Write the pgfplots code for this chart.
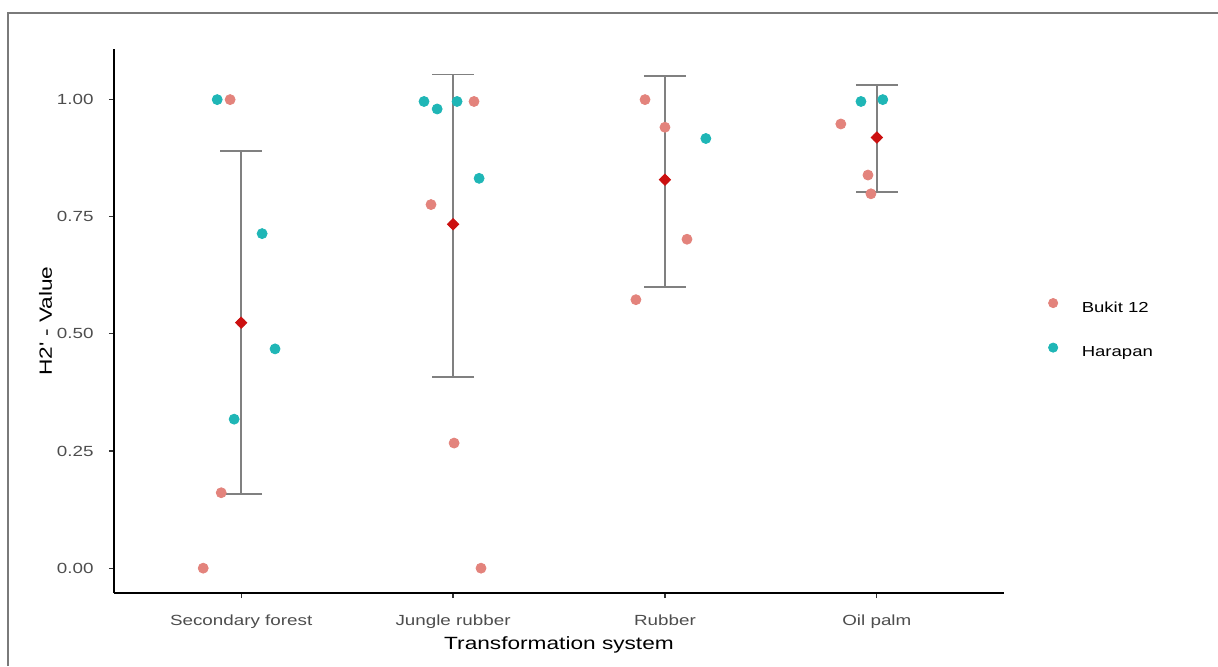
\documentclass[border=0pt]{standalone}
\usepackage{fontspec}
\setmainfont{Liberation Sans}[FakeStretch=1.28]
\usepackage{pgfplots}
\pgfplotsset{compat=1.18}
\definecolor{bukit}{HTML}{E3837C}
\definecolor{harapan}{HTML}{1FB6B6}
\definecolor{meanred}{HTML}{CC1010}
\definecolor{errgray}{HTML}{808080}
\definecolor{ticklab}{HTML}{4D4D4D}
\definecolor{framegray}{HTML}{7A7A7A}

\pgfplotstableread{
x y ep em
1 0.524 0.366 0.366
2 0.734 0.320 0.326
3 0.829 0.221 0.229
4 0.919 0.112 0.116
}\errtable

\begin{document}
\begin{tikzpicture}
\useasboundingbox (0,0) rectangle (609pt,333pt);
\draw[framegray, line width=1pt] (4pt,0pt) -- (4pt,326.5pt) -- (609pt,326.5pt);
\begin{axis}[
  at={(57pt,36.5pt)}, anchor=south west,
  scale only axis, width=445pt, height=272pt,
  xmin=0.4, xmax=4.6, ymin=-0.053, ymax=1.108,
  axis x line*=bottom, axis y line*=left,
  axis line style={black, line width=0.75pt, -},
  xtick={1,2,3,4},
  xticklabels={Secondary forest, Jungle rubber, Rubber, Oil palm},
  ytick={0,0.25,0.5,0.75,1},
  yticklabels={0.00,0.25,0.50,0.75,1.00},
  tick align=outside, major tick length=2.5pt,
  tick style={black!80, line width=0.6pt},
  xticklabel style={anchor=base, inner sep=0pt, yshift=-13.5pt, font=\fontsize{7.35pt}{8pt}\selectfont, text=ticklab},
  yticklabel style={anchor=east, inner sep=0pt, xshift=-7.5pt, font=\fontsize{7.35pt}{8pt}\selectfont, text=ticklab},
  xlabel={Transformation system},
  ylabel={H2\textquotesingle{} - Value},
  xlabel style={at={(axis description cs:0.5,-0.103)}, anchor=base, inner sep=0pt, font=\fontsize{8.85pt}{10pt}\selectfont},
  ylabel style={at={(axis description cs:-0.0697,0.5)}, anchor=base, rotate=0, inner sep=0pt, font=\fontsize{8.85pt}{10pt}\selectfont},
  clip=false,
  legend style={at={(axis description cs:1.0496,0.4855)}, anchor=west, draw=none, fill=none,
    font=\fontsize{7.25pt}{8pt}\selectfont, inner sep=0pt, row sep=14pt, column sep=12pt,
    nodes={inner sep=0pt}},
  legend cell align=left,
  legend image code/.code={\draw[#1, mark size=2.3pt] plot coordinates {(0pt,2.6pt)};},
]
% error bars (mean +/- interval)
\addplot[forget plot, only marks, mark=none, color=errgray,
  error bars/.cd, y dir=both, y explicit,
  error bar style={errgray, line width=0.7pt},
  error mark=|, error mark options={errgray, line width=0.7pt, mark size=10.5pt}]
  table[x=x, y=y, y error plus=ep, y error minus=em] {\errtable};
% Bukit 12
\addplot[only marks, mark=*, mark size=2.5pt, color=bukit, mark options={draw=bukit, fill=bukit}]
  coordinates {
  (0.948,1.000) (0.906,0.161) (0.821,0.000)
  (2.099,0.996) (1.896,0.776) (2.005,0.267) (2.132,0.000)
  (2.906,1.000) (3.000,0.941) (3.104,0.702) (2.863,0.573)
  (3.830,0.948) (3.958,0.839) (3.972,0.799)
  };
\addlegendentry{Bukit 12}
% Harapan
\addplot[only marks, mark=*, mark size=2.5pt, color=harapan, mark options={draw=harapan, fill=harapan}]
  coordinates {
  (0.887,1.000) (1.099,0.714) (1.160,0.468) (0.967,0.318)
  (1.863,0.996) (1.925,0.980) (2.019,0.996) (2.123,0.832)
  (3.193,0.917)
  (3.925,0.996) (4.028,1.000)
  };
\addlegendentry{Harapan}
% means
\addplot[forget plot, only marks, mark=square*, mark size=2pt, color=meanred, mark options={draw=meanred, fill=meanred, rotate=45}]
  table[x=x, y=y] {\errtable};
\end{axis}
\end{tikzpicture}
\end{document}
